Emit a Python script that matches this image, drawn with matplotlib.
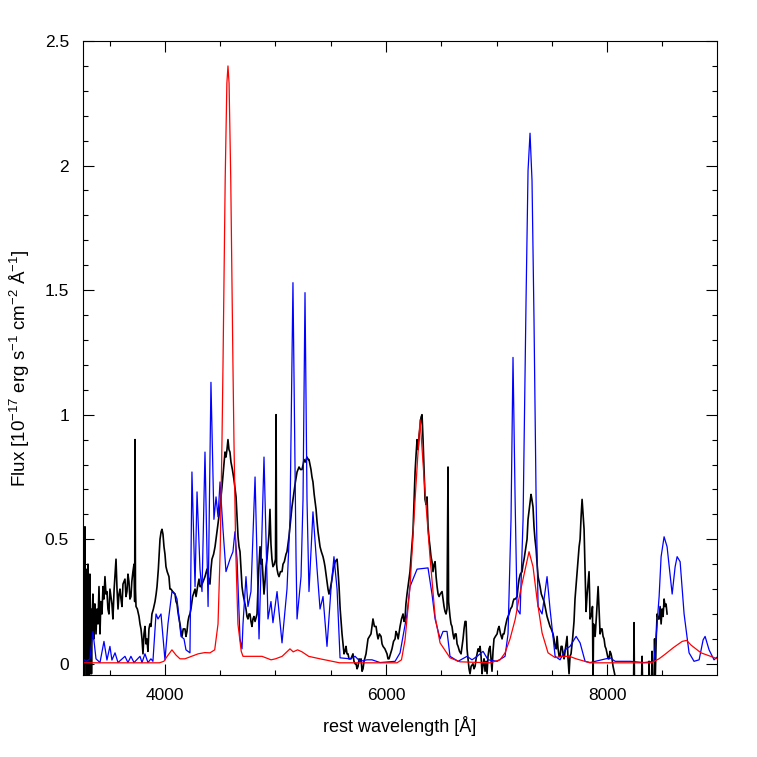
import matplotlib
matplotlib.use("Agg")
import matplotlib.pyplot as plt
import numpy as np
from matplotlib.ticker import MultipleLocator, FormatStrFormatter

plt.rcParams["font.family"] = ["Liberation Sans", "DejaVu Sans"]
plt.rcParams["mathtext.fontset"] = "custom"
plt.rcParams["mathtext.rm"] = "Liberation Sans"
plt.rcParams["mathtext.it"] = "Liberation Sans:italic"

# observed spectrum (rest wavelength [A], flux)
obs_points = [
    (3258, 0.30), (3262, -0.08), (3266, 0.45), (3270, -0.10), (3276, 0.55), (3280, 0.00),
    (3285, 0.38), (3290, -0.08), (3294, 0.32), (3298, -0.05), (3303, 0.40), (3307, 0.02),
    (3312, 0.25), (3316, -0.06), (3321, 0.36), (3326, 0.05), (3330, 0.22), (3335, -0.04),
    (3340, 0.18), (3348, 0.28), (3355, 0.10), (3362, 0.24), (3367, 0.24), (3376, 0.12),
    (3385, 0.22), (3394, 0.16), (3403, 0.31), (3412, 0.12), (3420, 0.25), (3430, 0.20),
    (3439, 0.31), (3448, 0.26), (3457, 0.35), (3466, 0.28), (3475, 0.29), (3484, 0.22),
    (3493, 0.20), (3502, 0.30), (3511, 0.27), (3520, 0.24), (3529, 0.18), (3540, 0.30),
    (3557, 0.42), (3566, 0.30), (3575, 0.22), (3584, 0.28), (3593, 0.30), (3602, 0.26),
    (3611, 0.23), (3620, 0.32), (3638, 0.34), (3647, 0.27), (3656, 0.29), (3665, 0.36),
    (3674, 0.33), (3683, 0.26), (3692, 0.27), (3700, 0.33), (3710, 0.37), (3720, 0.40),
    (3726, 0.25), (3729, 0.90), (3733, 0.30), (3738, 0.23), (3750, 0.22), (3765, 0.19),
    (3774, 0.16), (3783, 0.14), (3792, 0.10), (3801, 0.04), (3810, 0.12), (3819, 0.15),
    (3828, 0.08), (3837, 0.10), (3846, 0.05), (3855, 0.14), (3864, 0.16), (3873, 0.15),
    (3882, 0.20), (3895, 0.22), (3910, 0.25), (3920, 0.28), (3928, 0.31), (3940, 0.38),
    (3955, 0.50), (3965, 0.53), (3973, 0.54), (3982, 0.52), (3991, 0.47), (4000, 0.44),
    (4009, 0.39), (4020, 0.37), (4036, 0.35), (4045, 0.30), (4054, 0.30), (4070, 0.29),
    (4091, 0.28), (4100, 0.25), (4109, 0.24), (4120, 0.20), (4136, 0.16), (4145, 0.13),
    (4154, 0.11), (4165, 0.14), (4181, 0.14), (4190, 0.11), (4199, 0.13), (4208, 0.17),
    (4217, 0.19), (4226, 0.20), (4235, 0.22), (4250, 0.27), (4272, 0.30), (4281, 0.27),
    (4295, 0.31), (4308, 0.34), (4317, 0.31), (4326, 0.31), (4345, 0.33), (4362, 0.35),
    (4380, 0.38), (4395, 0.34), (4407, 0.32), (4416, 0.38), (4425, 0.42), (4440, 0.44),
    (4453, 0.47), (4462, 0.50), (4471, 0.53), (4485, 0.58), (4498, 0.63), (4507, 0.67),
    (4516, 0.71), (4530, 0.78), (4543, 0.85), (4552, 0.83), (4561, 0.86), (4570, 0.90),
    (4579, 0.86), (4588, 0.85), (4597, 0.81), (4610, 0.78), (4624, 0.74), (4635, 0.70),
    (4643, 0.67), (4652, 0.59), (4661, 0.51), (4670, 0.47), (4679, 0.45), (4688, 0.38),
    (4697, 0.31), (4706, 0.28), (4720, 0.25), (4733, 0.22), (4742, 0.19), (4751, 0.18),
    (4760, 0.20), (4769, 0.20), (4778, 0.17), (4787, 0.15), (4796, 0.18), (4805, 0.19),
    (4815, 0.17), (4833, 0.20), (4842, 0.31), (4851, 0.40), (4860, 0.47), (4869, 0.40),
    (4878, 0.42), (4887, 0.35), (4896, 0.28), (4905, 0.33), (4914, 0.39), (4923, 0.42),
    (4932, 0.47), (4941, 0.52), (4950, 0.62), (4959, 0.48), (4968, 0.42), (4977, 0.39),
    (4990, 0.40), (5000, 0.42), (5005, 1.00), (5010, 0.40), (5014, 0.38), (5023, 0.36),
    (5032, 0.35), (5045, 0.37), (5059, 0.37), (5068, 0.40), (5080, 0.41), (5095, 0.44),
    (5104, 0.45), (5113, 0.48), (5122, 0.51), (5135, 0.57), (5149, 0.63), (5158, 0.66),
    (5167, 0.69), (5180, 0.73), (5195, 0.77), (5204, 0.78), (5213, 0.79), (5226, 0.78),
    (5240, 0.78), (5250, 0.80), (5258, 0.82), (5270, 0.81), (5285, 0.83), (5295, 0.82),
    (5303, 0.82), (5312, 0.80), (5321, 0.78), (5330, 0.75), (5339, 0.73), (5350, 0.68),
    (5367, 0.62), (5376, 0.57), (5385, 0.53), (5394, 0.50), (5403, 0.47), (5415, 0.45),
    (5430, 0.43), (5440, 0.41), (5448, 0.39), (5457, 0.36), (5466, 0.33), (5475, 0.30),
    (5484, 0.28), (5495, 0.30), (5511, 0.34), (5520, 0.37), (5529, 0.39), (5540, 0.41),
    (5557, 0.42), (5566, 0.37), (5575, 0.31), (5585, 0.22), (5602, 0.12), (5611, 0.08),
    (5620, 0.04), (5629, 0.05), (5638, 0.07), (5647, 0.04), (5656, 0.04), (5665, 0.02),
    (5683, 0.02), (5692, 0.03), (5701, 0.04), (5710, 0.01), (5720, 0.00), (5729, 0.00),
    (5738, -0.02), (5747, -0.01), (5756, 0.02), (5765, 0.01), (5774, 0.02), (5783, -0.03),
    (5792, -0.02), (5801, 0.01), (5819, 0.04), (5828, 0.07), (5837, 0.10), (5850, 0.11),
    (5864, 0.12), (5873, 0.15), (5882, 0.18), (5895, 0.15), (5910, 0.15), (5919, 0.12),
    (5928, 0.10), (5940, 0.12), (5955, 0.11), (5964, 0.08), (5973, 0.07), (5990, 0.06),
    (6009, 0.04), (6018, 0.02), (6027, 0.02), (6040, 0.04), (6054, 0.06), (6068, 0.09),
    (6082, 0.10), (6090, 0.13), (6100, 0.12), (6110, 0.10), (6127, 0.15), (6140, 0.18),
    (6154, 0.20), (6163, 0.17), (6172, 0.18), (6180, 0.24), (6190, 0.28), (6205, 0.33),
    (6217, 0.37), (6230, 0.45), (6244, 0.53), (6254, 0.66), (6263, 0.77), (6272, 0.84),
    (6281, 0.90), (6290, 0.86), (6300, 0.92), (6308, 0.95), (6317, 0.99), (6326, 1.00),
    (6335, 0.90), (6344, 0.78), (6353, 0.66), (6362, 0.64), (6371, 0.67), (6380, 0.55),
    (6390, 0.50), (6398, 0.47), (6407, 0.43), (6416, 0.41), (6425, 0.37), (6435, 0.40),
    (6444, 0.41), (6453, 0.35), (6462, 0.31), (6471, 0.28), (6480, 0.27), (6490, 0.28),
    (6507, 0.29), (6516, 0.26), (6525, 0.23), (6534, 0.21), (6543, 0.20), (6552, 0.22),
    (6561, 0.79), (6566, 0.25), (6579, 0.19), (6588, 0.16), (6597, 0.15), (6606, 0.12),
    (6615, 0.10), (6625, 0.12), (6634, 0.12), (6643, 0.08), (6652, 0.07), (6665, 0.05),
    (6679, 0.04), (6688, 0.07), (6697, 0.10), (6706, 0.14), (6715, 0.17), (6724, 0.17),
    (6733, 0.06), (6742, 0.02), (6751, -0.02), (6760, -0.04), (6770, -0.01), (6787, 0.00),
    (6796, -0.02), (6806, -0.01), (6815, 0.02), (6824, 0.04), (6833, 0.06), (6842, 0.05),
    (6851, 0.07), (6860, 0.03), (6869, -0.04), (6878, 0.00), (6887, 0.02), (6896, -0.03),
    (6905, 0.01), (6914, -0.04), (6923, 0.03), (6932, 0.06), (6941, 0.07), (6950, 0.02),
    (6959, -0.03), (6968, 0.05), (6977, 0.10), (6990, 0.11), (7005, 0.12), (7014, 0.14),
    (7023, 0.15), (7036, 0.12), (7050, 0.10), (7059, 0.12), (7068, 0.12), (7080, 0.15),
    (7095, 0.18), (7104, 0.19), (7113, 0.20), (7126, 0.22), (7140, 0.23), (7150, 0.25),
    (7158, 0.26), (7170, 0.26), (7186, 0.27), (7195, 0.31), (7204, 0.34), (7215, 0.36),
    (7231, 0.37), (7240, 0.40), (7249, 0.42), (7262, 0.46), (7276, 0.50), (7285, 0.58),
    (7298, 0.63), (7312, 0.68), (7320, 0.66), (7330, 0.63), (7339, 0.55), (7348, 0.50),
    (7358, 0.46), (7367, 0.40), (7376, 0.35), (7385, 0.33), (7394, 0.31), (7405, 0.28),
    (7421, 0.26), (7430, 0.25), (7439, 0.23), (7448, 0.21), (7457, 0.19), (7470, 0.17),
    (7484, 0.15), (7495, 0.14), (7511, 0.12), (7520, 0.10), (7530, 0.07), (7540, 0.06),
    (7548, 0.11), (7557, 0.06), (7566, 0.03), (7575, 0.03), (7584, 0.07), (7593, 0.07),
    (7602, 0.04), (7611, 0.02), (7620, 0.05), (7630, 0.08), (7638, 0.11), (7647, 0.02),
    (7656, -0.04), (7665, 0.03), (7674, 0.04), (7688, 0.10), (7701, 0.17), (7710, 0.26),
    (7724, 0.34), (7738, 0.42), (7747, 0.47), (7756, 0.50), (7765, 0.59), (7774, 0.66),
    (7783, 0.60), (7792, 0.54), (7797, 0.45), (7801, 0.39), (7806, 0.30), (7810, 0.21),
    (7820, 0.28), (7837, 0.37), (7842, 0.28), (7846, 0.18), (7860, 0.20), (7868, 0.23),
    (7873, -0.10), (7878, 0.16), (7892, 0.11), (7905, 0.20), (7919, 0.31), (7928, 0.22),
    (7937, 0.12), (7946, 0.14), (7955, 0.14), (7964, 0.11), (7973, 0.10), (7982, 0.07),
    (7991, 0.06), (8000, 0.04), (8010, 0.02), (8018, 0.02), (8027, 0.05), (8036, 0.04),
    (8045, 0.02), (8054, -0.01), (8063, -0.03), (8073, -0.05), (8082, -0.08), (8091, -0.10),
    (8150, -0.12), (8200, -0.10), (8240, -0.09), (8244, 0.165), (8248, -0.10), (8310, -0.10),
    (8317, 0.03), (8322, -0.10), (8376, -0.10), (8380, 0.01), (8385, -0.10), (8403, -0.10),
    (8407, 0.05), (8412, -0.10), (8426, -0.10), (8430, 0.10), (8435, -0.08), (8445, 0.11),
    (8453, 0.20), (8462, 0.18), (8471, 0.18), (8480, 0.23), (8489, 0.16), (8498, 0.22),
    (8507, 0.19), (8516, 0.26), (8525, 0.23), (8534, 0.24), (8543, 0.20),
]

# model 1 (blue)
blue_points = [
    (3258, 0.02), (3290, 0.01), (3321, 0.02), (3348, 0.13), (3376, 0.02), (3412, 0.005),
    (3448, 0.09), (3475, 0.015), (3502, 0.07), (3520, 0.015), (3548, 0.044), (3575, 0.005),
    (3638, 0.03), (3665, 0.005), (3692, 0.03), (3720, 0.005), (3774, 0.03), (3792, 0.005),
    (3819, 0.04), (3846, 0.005), (3873, 0.02), (3891, 0.01), (3919, 0.20), (3937, 0.18),
    (3964, 0.20), (4000, 0.015), (4027, 0.16), (4063, 0.29), (4091, 0.28), (4109, 0.26),
    (4145, 0.11), (4172, 0.10), (4190, 0.056), (4226, 0.044), (4244, 0.77), (4272, 0.31),
    (4290, 0.69), (4317, 0.38), (4335, 0.29), (4362, 0.85), (4390, 0.23), (4416, 1.13),
    (4443, 0.58), (4462, 0.67), (4480, 0.59), (4498, 0.73), (4525, 0.54), (4552, 0.37),
    (4588, 0.42), (4615, 0.45), (4633, 0.53), (4652, 0.42), (4679, 0.10), (4697, 0.06),
    (4706, 0.16), (4733, 0.35), (4751, 0.23), (4778, 0.29), (4815, 0.75), (4851, 0.10),
    (4896, 0.83), (4932, 0.18), (4959, 0.25), (4977, 0.165), (5014, 0.29), (5059, 0.084),
    (5104, 0.30), (5131, 0.58), (5158, 1.53), (5186, 0.42), (5195, 0.18), (5231, 0.35),
    (5249, 0.66), (5267, 1.49), (5285, 0.66), (5303, 0.29), (5339, 0.61), (5376, 0.38),
    (5403, 0.22), (5430, 0.27), (5466, 0.07), (5502, 0.30), (5529, 0.43), (5557, 0.30),
    (5584, 0.024), (5674, 0.02), (5720, 0.03), (5765, 0.01), (5828, 0.016), (5873, 0.016),
    (5946, 0.005), (6082, 0.01), (6127, 0.044), (6190, 0.20), (6217, 0.31), (6281, 0.38),
    (6380, 0.385), (6416, 0.28), (6444, 0.18), (6489, 0.10), (6516, 0.13), (6552, 0.13),
    (6579, 0.03), (6652, 0.01), (6733, 0.03), (6778, 0.016), (6824, 0.03), (6878, 0.05),
    (6923, 0.016), (7005, 0.01), (7077, 0.03), (7104, 0.12), (7131, 0.58), (7149, 1.23),
    (7168, 0.66), (7186, 0.22), (7213, 0.20), (7240, 0.58), (7267, 1.46), (7285, 1.98),
    (7303, 2.13), (7321, 1.94), (7339, 1.38), (7358, 0.66), (7376, 0.23), (7412, 0.20),
    (7457, 0.35), (7484, 0.22), (7530, 0.03), (7575, 0.016), (7620, 0.056), (7665, 0.07),
    (7720, 0.11), (7756, 0.084), (7801, 0.01), (7846, 0.005), (8027, 0.024), (8073, 0.01),
    (8208, 0.01), (8335, 0.005), (8425, 0.01), (8444, 0.11), (8471, 0.27), (8489, 0.43),
    (8516, 0.51), (8543, 0.47), (8589, 0.28), (8616, 0.39), (8634, 0.43), (8661, 0.41),
    (8697, 0.20), (8742, 0.044), (8787, 0.01), (8833, 0.016), (8869, 0.096), (8887, 0.11),
    (8923, 0.056), (8968, 0.016), (9004, 0.03),
]

# model 2 (red)
red_points = [
    (3258, 0.004), (3950, 0.004), (3990, 0.01), (4020, 0.03), (4063, 0.056), (4100, 0.035),
    (4136, 0.02), (4180, 0.02), (4240, 0.03), (4300, 0.04), (4360, 0.045), (4407, 0.044),
    (4450, 0.056), (4480, 0.16), (4500, 0.46), (4516, 0.90), (4525, 1.20), (4545, 1.95),
    (4560, 2.33), (4570, 2.40), (4580, 2.33), (4595, 1.95), (4615, 1.20), (4624, 0.90),
    (4640, 0.46), (4660, 0.16), (4690, 0.05), (4706, 0.03), (4769, 0.03), (4878, 0.03),
    (4960, 0.016), (5000, 0.02), (5060, 0.03), (5131, 0.06), (5160, 0.048), (5200, 0.056),
    (5240, 0.048), (5300, 0.03), (5403, 0.02), (5580, 0.004), (6100, 0.004), (6140, 0.016),
    (6172, 0.096), (6217, 0.31), (6263, 0.66), (6308, 0.98), (6353, 0.69), (6398, 0.43),
    (6444, 0.19), (6489, 0.084), (6579, 0.024), (6670, 0.008), (6940, 0.004), (7032, 0.016),
    (7077, 0.044), (7122, 0.10), (7168, 0.177), (7213, 0.285), (7258, 0.377), (7294, 0.45),
    (7330, 0.39), (7367, 0.257), (7412, 0.124), (7466, 0.044), (7530, 0.025), (7600, 0.03),
    (7660, 0.03), (7720, 0.02), (7846, 0.004), (8400, 0.004), (8470, 0.02), (8530, 0.04),
    (8600, 0.065), (8680, 0.09), (8720, 0.094), (8760, 0.075), (8850, 0.044), (9000, 0.02),
]

obs_wave, obs_flux = np.array(obs_points).T
blue_wave, blue_flux = np.array(blue_points).T
red_wave, red_flux = np.array(red_points).T

fig = plt.figure(figsize=(7.57, 7.57), dpi=100)
ax = fig.add_axes([0.1096, 0.1083, 0.8376, 0.8375])

ax.plot(obs_wave, obs_flux, color="black", lw=1.2)
ax.plot(blue_wave, blue_flux, color="blue", lw=0.9)
ax.plot(red_wave, red_flux, color="red", lw=0.9)

ax.set_xlim(3258, 8995)
ax.set_ylim(-0.045, 2.5)

# pgplot-like ticks on all sides
ax.xaxis.set_major_locator(MultipleLocator(2000))
ax.xaxis.set_minor_locator(MultipleLocator(500))
ax.yaxis.set_major_locator(MultipleLocator(0.5))
ax.yaxis.set_minor_locator(MultipleLocator(0.1))
ax.yaxis.set_major_formatter(FormatStrFormatter("%g"))
ax.tick_params(which="both", direction="in", top=True, right=True, labelsize=12.5, width=0.8)
ax.tick_params(which="major", length=8)
ax.tick_params(which="minor", length=3.5)
ax.tick_params(axis="x", pad=9)
ax.tick_params(axis="y", pad=10)
for sp in ax.spines.values():
    sp.set_linewidth(0.8)

ax.set_xlabel("rest wavelength [Å]", fontsize=13, labelpad=10)
ax.set_ylabel("Flux [10$^{-17}$ erg s$^{-1}$ cm$^{-2}$ Å$^{-1}$]", fontsize=13.5, labelpad=7)
ax.yaxis.set_label_coords(-0.081, 0.484)

fig.savefig("out.png", dpi=100)
